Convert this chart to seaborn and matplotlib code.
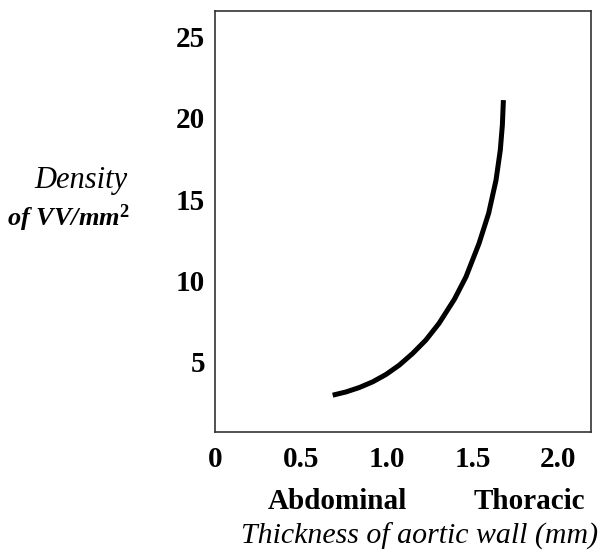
import matplotlib
matplotlib.use("Agg")
import matplotlib.pyplot as plt
import seaborn as sns
import pandas as pd

# Data
thickness_mm = [0.686, 0.764, 0.841, 0.919, 0.996, 1.073, 1.151, 1.228, 1.305,
                1.395, 1.462, 1.538, 1.594, 1.637, 1.662, 1.674, 1.680]
density_vv = [2.95, 3.15, 3.42, 3.77, 4.22, 4.79, 5.51, 6.33, 7.36,
              8.85, 10.22, 12.27, 14.12, 16.16, 18.01, 19.55, 21.08]
x_ticks = [0, 0.5, 1.0, 1.5, 2.0]
x_tick_labels = ["0", "0.5", "1.0", "1.5", "2.0"]
y_ticks = [5, 10, 15, 20, 25]
y_tick_labels = ["5", "10", "15", "20", "25"]
region_labels = ["Abdominal", "Thoracic"]

sns.set_theme(style="white")
plt.rcParams["font.family"] = ["Liberation Serif", "DejaVu Serif"]
plt.rcParams["text.color"] = "black"
plt.rcParams["xtick.color"] = "black"
plt.rcParams["ytick.color"] = "black"
plt.rcParams["mathtext.fontset"] = "custom"
plt.rcParams["mathtext.rm"] = "Liberation Serif"
plt.rcParams["mathtext.it"] = "Liberation Serif:italic"
plt.rcParams["mathtext.bf"] = "Liberation Serif:bold"

df = pd.DataFrame({"thickness": thickness_mm, "density": density_vv})

fig = plt.figure(figsize=(6.14, 5.54), dpi=100)
ax = fig.add_axes([0.350, 0.220, 0.6125, 0.760])

sns.lineplot(data=df, x="thickness", y="density", sort=False, ax=ax,
             color="black", linewidth=3.6, solid_capstyle="butt",
             solid_joinstyle="round")

ax.set_xlim(0, 2.19)
ax.set_ylim(0.68, 26.55)
ax.set_xticks(x_ticks)
ax.set_xticklabels(x_tick_labels, fontsize=21, fontweight="bold", color="black")
ax.set_yticks(y_ticks)
ax.set_yticklabels(y_tick_labels, fontsize=21, fontweight="bold", color="black")
ax.tick_params(axis="both", length=0)
ax.tick_params(axis="x", pad=10)
ax.tick_params(axis="y", pad=7)
ax.set_xlabel("")
ax.set_ylabel("")
for s in ax.spines.values():
    s.set_visible(True)
    s.set_color("#333333")
    s.set_linewidth(1.2)

fig.text(0.550, 0.094, region_labels[0], ha="center", va="center",
         fontsize=21, fontweight="bold", color="black")
fig.text(0.862, 0.094, region_labels[1], ha="center", va="center",
         fontsize=21, fontweight="bold", color="black")
fig.text(0.393, 0.031, "Thickness of aortic wall (mm)", ha="left", va="center",
         fontsize=21.5, fontstyle="italic", color="black")
fig.text(0.132, 0.675, "Density", ha="center", va="center",
         fontsize=22, fontstyle="italic", color="black")
fig.text(0.112, 0.606, r"of VV/mm$^{\mathbf{2}}$", ha="center", va="center",
         fontsize=19, fontstyle="italic", fontweight="bold", color="black")

fig.savefig("out.png", dpi=100)
